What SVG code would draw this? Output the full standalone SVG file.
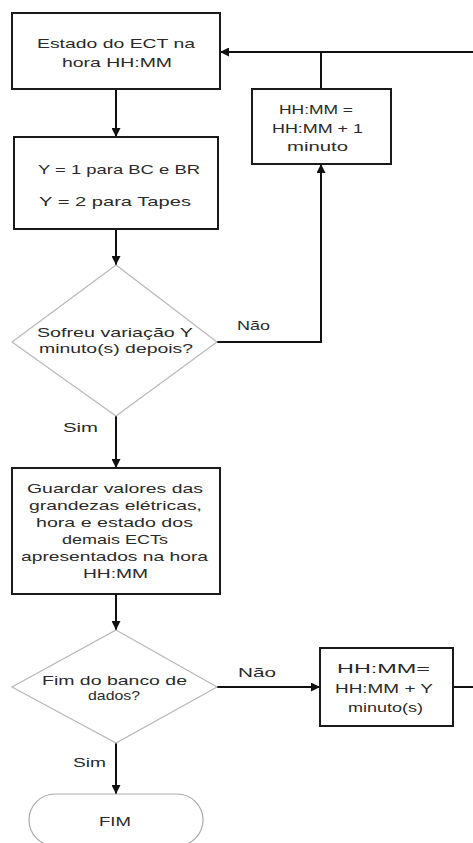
<svg xmlns="http://www.w3.org/2000/svg" width="473" height="843" viewBox="0 0 473 843">
<style>
.box{fill:#fff;stroke:#1a1a1a;stroke-width:2}
.dia{fill:#fff;stroke:#b8b8b8;stroke-width:1.2}
.term{fill:#fff;stroke:#aaa;stroke-width:1.2}
.t{font-family:"Liberation Sans",Arial,sans-serif;font-size:13.5px;fill:#2a2a2a;text-anchor:middle}
.lbl{font-family:"Liberation Sans",Arial,sans-serif;font-size:13.5px;fill:#2a2a2a}
.c{fill:none;stroke:#111;stroke-width:2}
</style>
<defs>
<marker id="ah" viewBox="0 0 10 10" refX="10" refY="5" markerWidth="9" markerHeight="9" markerUnits="userSpaceOnUse" orient="auto">
<path d="M0,0 L10,5 L0,10 z" fill="#111"/>
</marker>
</defs>
<g id="connectors">
<path class="c" d="M116,89 V137" marker-end="url(#ah)"/>
<path class="c" d="M116,229 V265" marker-end="url(#ah)"/>
<path class="c" d="M217,342 H321 V164" marker-end="url(#ah)"/>
<path class="c" d="M321,89 V52"/>
<path class="c" d="M473,52 H220" marker-end="url(#ah)"/>
<path class="c" d="M116,416 V468" marker-end="url(#ah)"/>
<path class="c" d="M116,594 V630" marker-end="url(#ah)"/>
<path class="c" d="M217,687 H320" marker-end="url(#ah)"/>
<path class="c" d="M453,687 H473"/>
<path class="c" d="M116,743 V794" marker-end="url(#ah)"/>
<text class="lbl" x="237" y="330" textLength="33" lengthAdjust="spacingAndGlyphs">Não</text>
<text class="lbl" x="63" y="432" textLength="35" lengthAdjust="spacingAndGlyphs">Sim</text>
<text class="lbl" x="238" y="677" textLength="38" lengthAdjust="spacingAndGlyphs">Não</text>
<text class="lbl" x="73" y="767" textLength="33" lengthAdjust="spacingAndGlyphs">Sim</text>
</g>
<g id="estado">
<rect class="box" x="12" y="13" width="208" height="76"/>
<text class="t" x="116" y="48" textLength="158" lengthAdjust="spacingAndGlyphs">Estado do ECT na</text>
<text class="t" x="117" y="67" textLength="110" lengthAdjust="spacingAndGlyphs">hora HH:MM</text>
</g>
<g id="incr1">
<rect class="box" x="252" y="89" width="139" height="75"/>
<text class="t" x="316" y="114" textLength="74" lengthAdjust="spacingAndGlyphs">HH:MM =</text>
<text class="t" x="317.5" y="133" textLength="91" lengthAdjust="spacingAndGlyphs">HH:MM + 1</text>
<text class="t" x="317.5" y="151" textLength="61" lengthAdjust="spacingAndGlyphs">minuto</text>
</g>
<g id="ydef">
<rect class="box" x="14" y="137" width="204" height="92"/>
<text class="t" x="119" y="174" textLength="162" lengthAdjust="spacingAndGlyphs">Y = 1 para BC e BR</text>
<text class="t" x="115" y="206" textLength="152" lengthAdjust="spacingAndGlyphs">Y = 2 para Tapes</text>
</g>
<g id="decisao1">
<polygon class="dia" points="116,265 217,342 116,416 12,342"/>
<text class="t" x="115" y="337" textLength="156" lengthAdjust="spacingAndGlyphs">Sofreu variação Y</text>
<text class="t" x="116" y="353" textLength="154" lengthAdjust="spacingAndGlyphs">minuto(s) depois?</text>
</g>
<g id="guardar">
<rect class="box" x="12" y="468" width="208" height="126"/>
<text class="t" x="115" y="493" textLength="176" lengthAdjust="spacingAndGlyphs">Guardar valores das</text>
<text class="t" x="115.5" y="510" textLength="173" lengthAdjust="spacingAndGlyphs">grandezas elétricas,</text>
<text class="t" x="114.5" y="527" textLength="157" lengthAdjust="spacingAndGlyphs">hora e estado dos</text>
<text class="t" x="115" y="544" textLength="106" lengthAdjust="spacingAndGlyphs">demais ECTs</text>
<text class="t" x="114.5" y="561" textLength="187" lengthAdjust="spacingAndGlyphs">apresentados na hora</text>
<text class="t" x="115.5" y="578" textLength="65" lengthAdjust="spacingAndGlyphs">HH:MM</text>
</g>
<g id="decisao2">
<polygon class="dia" points="116,630 217,687 116,743 12,687"/>
<text class="t" x="114.5" y="685" textLength="145" lengthAdjust="spacingAndGlyphs">Fim do banco de</text>
<text class="t" x="114" y="700" textLength="52" lengthAdjust="spacingAndGlyphs">dados?</text>
</g>
<g id="incrY">
<rect class="box" x="320" y="648" width="133" height="78"/>
<text class="t" x="383.5" y="673" textLength="93" lengthAdjust="spacingAndGlyphs">HH:MM=</text>
<text class="t" x="384" y="693" textLength="98" lengthAdjust="spacingAndGlyphs">HH:MM + Y</text>
<text class="t" x="385.5" y="712" textLength="75" lengthAdjust="spacingAndGlyphs">minuto(s)</text>
</g>
<g id="fim">
<rect class="term" x="29" y="794" width="174" height="52" rx="26" ry="26"/>
<text class="t" x="115" y="826" textLength="32" lengthAdjust="spacingAndGlyphs">FIM</text>
</g>
</svg>
